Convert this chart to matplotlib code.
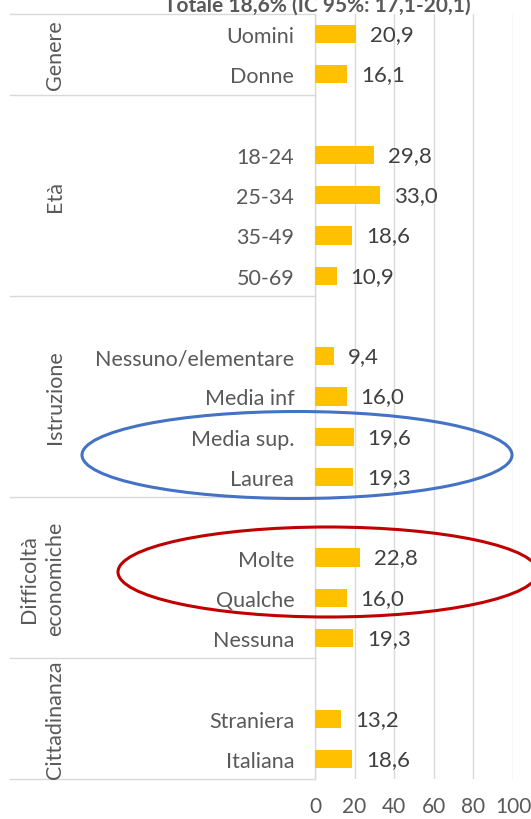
import matplotlib
matplotlib.use("Agg")
import matplotlib.pyplot as plt
from matplotlib import transforms
from matplotlib.patches import Ellipse

# ---- data ----
groups = ["Genere", "Età", "Istruzione", "Difficoltà\neconomiche", "Cittadinanza"]
group_slots = [2, 5, 5, 4, 3]          # rows in each group (including blank row)
categories = ["Uomini", "Donne",
              "", "18-24", "25-34", "35-49", "50-69",
              "", "Nessuno/elementare", "Media inf", "Media sup.", "Laurea",
              "", "Molte", "Qualche", "Nessuna",
              "", "Straniera", "Italiana"]
values = [20.9, 16.1,
          None, 29.8, 33.0, 18.6, 10.9,
          None, 9.4, 16.0, 19.6, 19.3,
          None, 22.8, 16.0, 19.3,
          None, 13.2, 18.6]
xticks = [0, 20, 40, 60, 80, 100]
title = "Totale 18,6% (IC 95%: 17,1-20,1)"

W, H = 531, 820
FONT = ["Lato", "DejaVu Sans"]
plt.rcParams["font.family"] = FONT
FS = 15.5

fig = plt.figure(figsize=(W / 100, H / 100), dpi=100)
left, right, top, bottom = 315, 513, 15, 780
ax = fig.add_axes([left / W, 1 - bottom / H, (right - left) / W, (bottom - top) / H])

n = len(categories)
pos = list(range(n))
bar_pos = [p for p, v in zip(pos, values) if v is not None]
bar_val = [v for v in values if v is not None]
ax.barh(bar_pos, bar_val, height=0.45, color="#FFC000", zorder=3)
for p, v in zip(bar_pos, bar_val):
    ax.annotate(f"{v:.1f}".replace(".", ","), xy=(v, p), xytext=(10, 0),
                textcoords="offset points", va="center", ha="left",
                fontsize=16, color="#404040")

ax.set_xlim(0, 100)
ax.set_ylim(n - 0.5, -0.5)
ax.set_xticks(xticks)
ax.set_xticklabels([str(t) for t in xticks], fontsize=15, color="#595959")
lab_pos = [p for p, c in zip(pos, categories) if c]
ax.set_yticks(lab_pos)
ax.set_yticklabels([c for c in categories if c], fontsize=FS, color="#595959")
ax.tick_params(axis="both", length=0)
ax.tick_params(axis="y", pad=15)
ax.tick_params(axis="x", pad=12)
ax.grid(axis="x", color="#D9D9D9", lw=1, zorder=0)
for s in ["top", "right", "bottom"]:
    ax.spines[s].set_visible(False)
ax.spines["left"].set_color("#D9D9D9")
ax.spines["left"].set_linewidth(1)

# group separators and labels
blend = transforms.blended_transform_factory(ax.transAxes, ax.transData)
blendfig = transforms.blended_transform_factory(fig.transFigure, ax.transData)
x0 = (10 - left) / (right - left)
start = -0.5
ax.plot([x0, 0], [start, start], transform=blend, color="#D9D9D9", lw=1, clip_on=False)
for g, k in zip(groups, group_slots):
    end = start + k
    ax.plot([x0, 0], [end, end], transform=blend, color="#D9D9D9", lw=1, clip_on=False)
    xg = 55 / W if "\n" not in g else 42 / W
    ax.text(xg, (start + end) / 2, g, transform=blendfig, rotation=90,
            ha="center", va="center", fontsize=FS, color="#595959",
            multialignment="center", linespacing=1.4)
    start = end

fig.text(317 / W, 1 - 12 / H, title, ha="center", va="baseline",
         fontsize=15, fontweight="bold", color="#595959")

# overlay for ellipses (pixel coordinates)
ov = fig.add_axes([0, 0, 1, 1], facecolor="none")
ov.set_xlim(0, W)
ov.set_ylim(H, 0)
ov.axis("off")
ov.add_patch(Ellipse((297, 456), 430, 87, fill=False, edgecolor="#4472C4", lw=2.2))
ov.add_patch(Ellipse((328, 573), 420, 90, fill=False, edgecolor="#C00000", lw=2.2, clip_on=False))

fig.savefig("out.png", dpi=100)
